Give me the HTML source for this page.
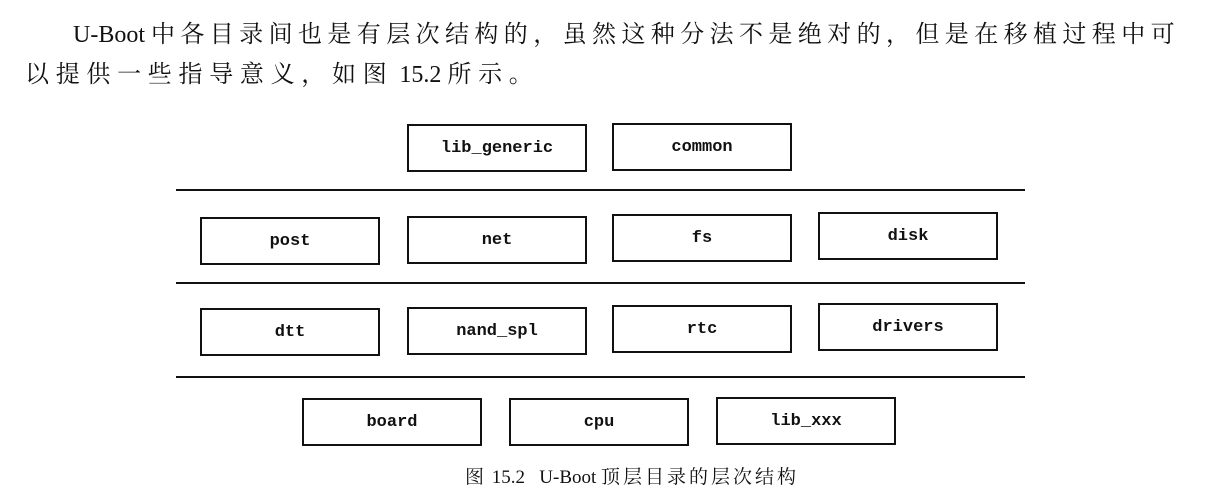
<!DOCTYPE html>
<html><head><meta charset="utf-8"><style>
body{margin:0;width:1207px;height:499px;background:#fff;position:relative;overflow:hidden;font-family:"Liberation Serif","Noto Serif CJK SC",serif;color:#111}
.t{position:absolute;white-space:nowrap;font-size:24px}
.t span{letter-spacing:0}
.b{position:absolute;width:176px;height:44px;border:2px solid #111;box-sizing:content-box;display:flex;align-items:center;justify-content:center;font-family:"Liberation Mono",monospace;font-weight:bold;font-size:17px}
.l{position:absolute;left:176px;width:849px;height:2px;background:#111}
</style></head><body>
<div class="t" style="left:73px;top:14px;letter-spacing:5.4px"><span>U-Boot </span>中各目录间也是有层次结构的，虽然这种分法不是绝对的，但是在移植过程中可</div>
<div class="t" style="left:25px;top:54px;letter-spacing:6.7px">以提供一些指导意义，如图<span> 15.2 </span>所示。</div>
<div class="b" style="left:407px;top:124px">lib_generic</div>
<div class="b" style="left:612px;top:123px">common</div>
<div class="l" style="top:189px"></div>
<div class="b" style="left:200px;top:217px">post</div>
<div class="b" style="left:407px;top:216px">net</div>
<div class="b" style="left:612px;top:214px">fs</div>
<div class="b" style="left:818px;top:212px">disk</div>
<div class="l" style="top:282px"></div>
<div class="b" style="left:200px;top:308px">dtt</div>
<div class="b" style="left:407px;top:307px">nand_spl</div>
<div class="b" style="left:612px;top:305px">rtc</div>
<div class="b" style="left:818px;top:303px">drivers</div>
<div class="l" style="top:376px"></div>
<div class="b" style="left:302px;top:398px">board</div>
<div class="b" style="left:509px;top:398px">cpu</div>
<div class="b" style="left:716px;top:397px">lib_xxx</div>
<div class="t" style="left:465px;top:462px;font-size:19px;letter-spacing:3px">图<span> 15.2&nbsp;&nbsp;&nbsp;U-Boot </span>顶层目录的层次结构</div>
</body></html>
